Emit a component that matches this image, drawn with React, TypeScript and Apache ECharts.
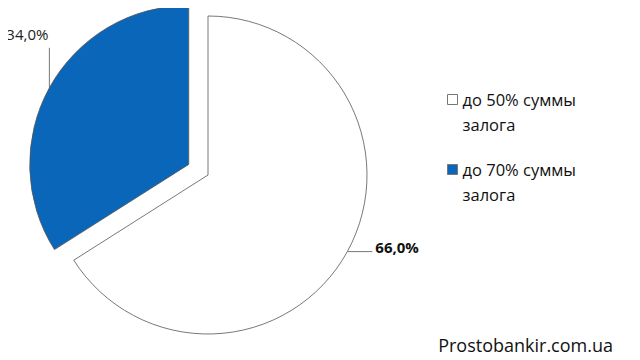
import React, { useEffect, useRef } from "react";
import * as echarts from "echarts";

const categories = ["до 50% суммы залога", "до 70% суммы залога"];
const values = [66.0, 34.0];
const colors = ["#ffffff", "#0a66b8"];
const watermark = "Prostobankir.com.ua";

export default function App() {
  const ref = useRef<HTMLDivElement>(null);
  useEffect(() => {
    if (!ref.current) return;
    const chart = echarts.init(ref.current, null, { renderer: "svg" });
    const fmt = (v: number) => v.toFixed(1).replace(".", ",") + "%";
    const total = values.reduce((a, b) => a + b, 0);
    const cx = 208;
    const cy = 175;
    const explode = 22;
    // mid angle of the exploded (second) slice, start at 12 o'clock, clockwise
    const midFrac = (values[0] + values[1] / 2) / total;
    const theta = ((90 - midFrac * 360) * Math.PI) / 180;
    const ex = cx + explode * Math.cos(theta);
    const ey = cy - explode * Math.sin(theta);

    const labelBase = {
      show: true,
      formatter: (p: any) => fmt(p.value),
      fontFamily: "Open Sans",
      fontSize: 15,
      color: "#222",
      overflow: "none",
    };
    const hidden = {
      itemStyle: { color: "rgba(0,0,0,0)", borderWidth: 0 },
      label: { show: false },
      labelLine: { show: false },
      tooltip: { show: false },
    };

    chart.setOption({
      animation: false,
      backgroundColor: "#ffffff",
      title: {
        text: watermark,
        right: 27,
        bottom: 6,
        padding: 0,
        textStyle: { fontFamily: "Open Sans", fontSize: 18, fontWeight: "normal", color: "#111" },
      },
      legend: {
        orient: "vertical",
        left: 447,
        top: 87,
        padding: 0,
        itemGap: 20,
        itemWidth: 10,
        itemHeight: 35,
        icon: "path://M0,0h10v10h-10z M0,35",
        selectedMode: false,
        data: categories.map((name, i) => ({
          name,
          itemStyle: { color: colors[i], borderColor: "#777", borderWidth: 1 },
        })),
        formatter: (name: string) => name.replace(" залога", "\nзалога"),
        textStyle: {
          fontFamily: "Open Sans",
          fontSize: 16.5,
          color: "#111",
          lineHeight: 25,
        },
      },
      series: [
        {
          type: "pie",
          center: [cx, cy],
          radius: 159,
          startAngle: 90,
          clockwise: true,
          label: { ...labelBase, fontWeight: "bold", color: "#111" },
          labelLine: { show: true, length: 10, length2: 10, lineStyle: { color: "#777", width: 1 } },
          labelLayout: (params: any) => {
            const pts = params.labelLinePoints;
            if (!pts) return {};
            const [x0, y0] = pts[0];
            return {
              x: x0 + 28,
              y: y0 - 5,
              align: "left",
              verticalAlign: "middle",
              labelLinePoints: [[x0, y0], [x0 + 25, y0], [x0 + 25, y0]],
            };
          },
          itemStyle: { borderColor: "#555", borderWidth: 0.8 },
          emphasis: { disabled: true },
          data: categories.map((name, i) =>
            i === 0
              ? { name, value: values[i], itemStyle: { color: colors[i] } }
              : { name, value: values[i], ...hidden }
          ),
        },
        {
          type: "pie",
          center: [ex, ey],
          radius: 159,
          startAngle: 90,
          clockwise: true,
          label: labelBase,
          labelLine: { show: true, length: 10, length2: 10, lineStyle: { color: "#777", width: 1 } },
          labelLayout: (params: any) => {
            const pts = params.labelLinePoints;
            if (!pts) return {};
            const [x0, y0] = pts[0];
            return {
              x: x0 - 1,
              y: y0 - 54,
              align: "right",
              verticalAlign: "middle",
              labelLinePoints: [[x0, y0], [x0, y0 - 40], [x0, y0 - 40]],
            };
          },
          itemStyle: { borderColor: "#555", borderWidth: 0.8 },
          emphasis: { disabled: true },
          data: categories.map((name, i) =>
            i === 1
              ? { name, value: values[i], itemStyle: { color: colors[i] } }
              : { name, value: values[i], ...hidden }
          ),
        },
      ],
    });
    return () => chart.dispose();
  }, []);
  return <div ref={ref} style={{ width: 640, height: 360, margin: -8 }} />;
}
